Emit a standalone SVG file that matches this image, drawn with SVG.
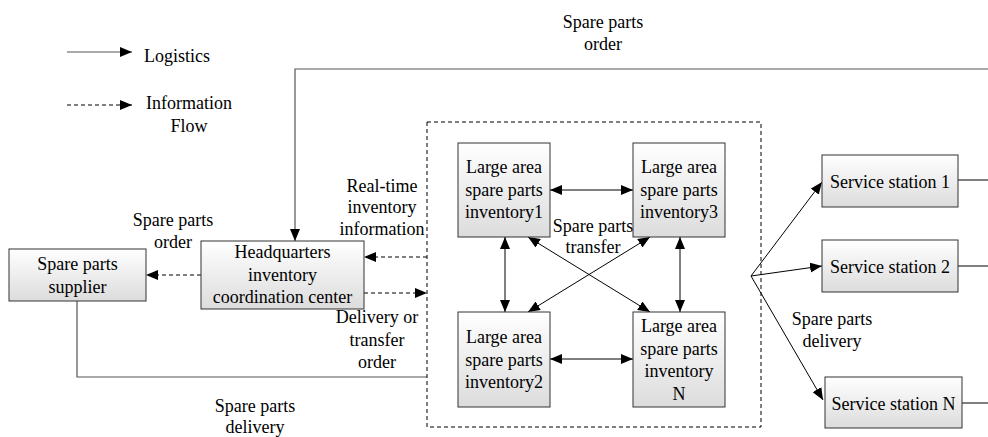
<svg xmlns="http://www.w3.org/2000/svg" width="988" height="437" viewBox="0 0 988 437">
<style>
text{font-family:"Liberation Serif","Times New Roman",serif;font-size:18px;fill:#000;text-anchor:middle}
.box{fill:url(#g);stroke:#333;stroke-width:1}
.ln{fill:none;stroke:#000;stroke-width:1}
.sl{fill:none;stroke:#555;stroke-width:1.2}
.da{fill:none;stroke:#000;stroke-width:1;stroke-dasharray:4 3}
</style>
<defs>
<linearGradient id="g" x1="0" y1="0" x2="0" y2="1">
<stop offset="0" stop-color="#ffffff"/>
<stop offset="1" stop-color="#dcdcdc"/>
</linearGradient>
<marker id="a" viewBox="0 0 12 10" refX="12" refY="5" markerWidth="12" markerHeight="10" markerUnits="userSpaceOnUse" orient="auto-start-reverse">
<path d="M0,0 L12,5 L0,10 Z" fill="#000"/>
</marker>
</defs>

<g id="legend">
<path class="sl" d="M67,52 H132" marker-end="url(#a)"/>
<text x="144" y="62" style="text-anchor:start">Logistics</text>
<path class="da" d="M67,105 H132" marker-end="url(#a)"/>
<text x="189" y="109">Information</text>
<text x="189" y="132">Flow</text>
</g>

<g id="connectors">
<path class="sl" d="M988,69 H295 V241" marker-end="url(#a)"/>
<path class="da" d="M201,275 H146" marker-end="url(#a)"/>
<path class="da" d="M427,257 H364" marker-end="url(#a)"/>
<path class="da" d="M364,293 H427" marker-end="url(#a)"/>
<path class="sl" d="M77,301 V377 H427"/>
<path class="ln" d="M550,190 H633" marker-start="url(#a)" marker-end="url(#a)"/>
<path class="ln" d="M550,359 H633" marker-start="url(#a)" marker-end="url(#a)"/>
<path class="ln" d="M505,237 V312" marker-start="url(#a)" marker-end="url(#a)"/>
<path class="ln" d="M680,237 V312" marker-start="url(#a)" marker-end="url(#a)"/>
<path class="ln" d="M528,237 L650,312" marker-start="url(#a)" marker-end="url(#a)"/>
<path class="ln" d="M650,237 L528,312" marker-start="url(#a)" marker-end="url(#a)"/>
<path class="ln" d="M751,276 L822,182" marker-end="url(#a)"/>
<path class="ln" d="M751,276 L822,266" marker-end="url(#a)"/>
<path class="ln" d="M751,276 L823,400" marker-end="url(#a)"/>
<path class="ln" d="M958,180 H988"/>
<path class="ln" d="M958,266 H988"/>
<path class="ln" d="M962,403 H988"/>
</g>

<g id="region">
<rect x="427" y="122" width="334" height="305" fill="none" stroke="#000" stroke-width="1" stroke-dasharray="4 3"/>
</g>

<g id="labels">
<text x="603" y="28">Spare parts</text>
<text x="603" y="50">order</text>
<text x="173" y="226">Spare parts</text>
<text x="173" y="248">order</text>
<text x="382" y="192">Real-time</text>
<text x="382" y="213">inventory</text>
<text x="382" y="235">information</text>
<text x="377" y="323">Delivery or</text>
<text x="377" y="346">transfer</text>
<text x="377" y="368">order</text>
<text x="593" y="232">Spare parts</text>
<text x="593" y="253">transfer</text>
<text x="255" y="412">Spare parts</text>
<text x="255" y="433">delivery</text>
<text x="832" y="325">Spare parts</text>
<text x="832" y="347">delivery</text>
</g>

<g id="supplier">
<rect class="box" x="9" y="249" width="137" height="52"/>
<text x="77.5" y="270">Spare parts</text>
<text x="77.5" y="293">supplier</text>
</g>

<g id="hq">
<rect class="box" x="201" y="241" width="163" height="68"/>
<text x="282.5" y="258">Headquarters</text>
<text x="282.5" y="281">inventory</text>
<text x="282.5" y="303">coordination center</text>
</g>

<g id="inv1">
<rect class="box" x="458" y="143" width="92" height="94"/>
<text x="504" y="173">Large area</text>
<text x="504" y="196">spare parts</text>
<text x="504" y="218">inventory1</text>
</g>

<g id="inv3">
<rect class="box" x="633" y="143" width="92" height="94"/>
<text x="679" y="173">Large area</text>
<text x="679" y="196">spare parts</text>
<text x="679" y="218">inventory3</text>
</g>

<g id="inv2">
<rect class="box" x="458" y="312" width="92" height="95"/>
<text x="504" y="343">Large area</text>
<text x="504" y="366">spare parts</text>
<text x="504" y="388">inventory2</text>
</g>

<g id="invN">
<rect class="box" x="633" y="312" width="92" height="95"/>
<text x="679" y="332">Large area</text>
<text x="679" y="355">spare parts</text>
<text x="679" y="377">inventory</text>
<text x="679" y="400">N</text>
</g>

<g id="ss1">
<rect class="box" x="822" y="155" width="136" height="52"/>
<text x="890" y="188">Service station 1</text>
</g>

<g id="ss2">
<rect class="box" x="822" y="240" width="136" height="52"/>
<text x="890" y="273">Service station 2</text>
</g>

<g id="ssN">
<rect class="box" x="825" y="377" width="137" height="51"/>
<text x="893.5" y="410">Service station N</text>
</g>
</svg>
